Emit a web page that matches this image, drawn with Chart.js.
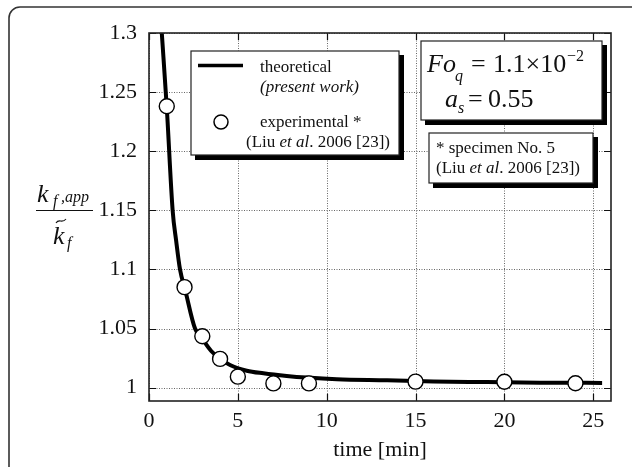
<!DOCTYPE html>
<html>
<head>
<meta charset="utf-8">
<script src="https://cdn.jsdelivr.net/npm/chart.js@4.4.1/dist/chart.umd.min.js"></script>
<style>
    html, body { margin: 0; padding: 0; background: #fff; }
    canvas { display: block; }
</style>
</head>
<body>
<canvas id="ratio-chart" width="632" height="467"></canvas>
<script>
// measured points (Liu et al. 2006, specimen No. 5)
const expTime = [1, 2, 3, 4, 5, 7, 9, 15, 20, 24];
const expRatio = [1.238, 1.085, 1.0435, 1.0243, 1.0093, 1.0036, 1.0036, 1.0051, 1.005, 1.0037];

// theoretical curve (present work)
const theoryTime = [0.72, 1.0, 1.33, 1.53, 1.745, 2.03, 2.59, 2.97, 3.5, 4.0, 4.56, 5.5, 6.44, 7.75, 8.88, 10.57, 13.4, 16.0, 19.0, 22.0, 25.5];
const theoryRatio = [1.3, 1.237, 1.15, 1.124, 1.1, 1.083, 1.05, 1.042, 1.031, 1.0245, 1.0191, 1.0143, 1.0121, 1.0099, 1.0085, 1.0071, 1.0062, 1.0052, 1.0047, 1.0042, 1.004];

const xTicks = [0, 5, 10, 15, 20, 25];
const yTicks = [1, 1.05, 1.1, 1.15, 1.2, 1.25, 1.3];

const SERIF = '"Liberation Serif", "Times New Roman", serif';

function toPoints(xs, ys) {
    return xs.map((x, i) => ({ x: x, y: ys[i] }));
}

function drawRuns(ctx, runs, x, y) {
    let cx = x;
    runs.forEach(r => {
        ctx.font = r.font;
        ctx.fillText(r.t, cx, y + (r.dy || 0));
        cx += ctx.measureText(r.t).width;
    });
    return cx;
}

function shadowBox(ctx, x, y, w, h) {
    ctx.fillStyle = '#000';
    ctx.fillRect(x + 4, y + 4, w + 1, h + 1);
    ctx.fillStyle = '#fff';
    ctx.fillRect(x, y, w, h);
    ctx.strokeStyle = '#222';
    ctx.lineWidth = 1.2;
    ctx.strokeRect(x, y, w, h);
}

const framePlugin = {
    id: 'frame',
    beforeDraw(chart) {
        const ctx = chart.ctx;
        ctx.save();
        ctx.fillStyle = '#fff';
        ctx.fillRect(0, 0, chart.width, chart.height);
        ctx.strokeStyle = '#333';
        ctx.lineWidth = 1.6;
        ctx.beginPath();
        ctx.roundRect(9, 7, 700, 600, 11);
        ctx.stroke();
        ctx.restore();
    },
    beforeDatasetsDraw(chart) {
        const { ctx, chartArea: a, scales } = chart;
        ctx.save();
        // dotted grid
        ctx.strokeStyle = '#666';
        ctx.lineWidth = 1;
        ctx.setLineDash([1, 1.5]);
        scales.x.ticks.forEach(t => {
            const px = Math.round(scales.x.getPixelForValue(t.value)) + 0.5;
            ctx.beginPath();
            ctx.moveTo(px, a.top);
            ctx.lineTo(px, a.bottom);
            ctx.stroke();
        });
        scales.y.ticks.forEach(t => {
            const py = Math.round(scales.y.getPixelForValue(t.value)) + 0.5;
            ctx.beginPath();
            ctx.moveTo(a.left, py);
            ctx.lineTo(a.right, py);
            ctx.stroke();
        });
        ctx.setLineDash([]);
        // inward ticks on all sides
        ctx.strokeStyle = '#111';
        ctx.lineWidth = 1.2;
        const tl = 7;
        scales.x.ticks.forEach(t => {
            const px = Math.round(scales.x.getPixelForValue(t.value)) + 0.5;
            ctx.beginPath();
            ctx.moveTo(px, a.bottom); ctx.lineTo(px, a.bottom - tl);
            ctx.moveTo(px, a.top); ctx.lineTo(px, a.top + tl);
            ctx.stroke();
        });
        scales.y.ticks.forEach(t => {
            const py = Math.round(scales.y.getPixelForValue(t.value)) + 0.5;
            ctx.beginPath();
            ctx.moveTo(a.left, py); ctx.lineTo(a.left + tl, py);
            ctx.moveTo(a.right, py); ctx.lineTo(a.right - tl, py);
            ctx.stroke();
        });
        ctx.restore();
    },
    afterDatasetsDraw(chart) {
        const { ctx, chartArea: a } = chart;
        ctx.save();
        ctx.strokeStyle = '#222';
        ctx.lineWidth = 1.6;
        ctx.strokeRect(a.left, a.top, a.right - a.left, a.bottom - a.top);
        ctx.restore();
    },
    afterDraw(chart) {
        const ctx = chart.ctx;
        ctx.save();
        ctx.textBaseline = 'alphabetic';

        // y axis label: k_{f,app} / k~_f
        ctx.fillStyle = '#111';
        ctx.font = `italic 26px ${SERIF}`;
        ctx.fillText('k', 37, 202);
        ctx.font = `italic 16px ${SERIF}`;
        ctx.fillText('f', 53, 206);
        ctx.fillText(',app', 61, 202);
        ctx.strokeStyle = '#111';
        ctx.lineWidth = 1;
        ctx.beginPath();
        ctx.moveTo(36, 210.5);
        ctx.lineTo(93, 210.5);
        ctx.stroke();
        ctx.font = `italic 26px ${SERIF}`;
        ctx.fillText('k', 53, 244);
        ctx.font = `italic 16px ${SERIF}`;
        ctx.fillText('f', 67, 248);
        ctx.lineWidth = 1.1;
        ctx.beginPath();
        ctx.moveTo(56, 223);
        ctx.bezierCurveTo(59, 218, 62, 224, 66, 219);
        ctx.stroke();

        // legend box
        shadowBox(ctx, 191, 51, 208, 104);
        ctx.strokeStyle = '#000';
        ctx.lineWidth = 3.5;
        ctx.beginPath();
        ctx.moveTo(198, 65.5);
        ctx.lineTo(243, 65.5);
        ctx.stroke();
        ctx.fillStyle = '#fff';
        ctx.lineWidth = 1.5;
        ctx.beginPath();
        ctx.arc(221, 122, 7, 0, Math.PI * 2);
        ctx.fill();
        ctx.stroke();
        ctx.fillStyle = '#111';
        ctx.font = `17px ${SERIF}`;
        ctx.fillText('theoretical', 260, 72);
        ctx.font = `italic 17px ${SERIF}`;
        ctx.fillText('(present work)', 260, 92);
        ctx.font = `17px ${SERIF}`;
        ctx.fillText('experimental *', 260, 127);
        drawRuns(ctx, [
            { t: '(Liu ', font: `17px ${SERIF}` },
            { t: 'et al', font: `italic 17px ${SERIF}` },
            { t: '. 2006 [23])', font: `17px ${SERIF}` }
        ], 246, 147);

        // parameter box
        shadowBox(ctx, 421, 41, 181, 79);
        ctx.fillStyle = '#111';
        ctx.font = `italic 26px ${SERIF}`;
        ctx.fillText('Fo', 427, 72);
        ctx.font = `italic 16px ${SERIF}`;
        ctx.fillText('q', 455, 81);
        ctx.font = `26px ${SERIF}`;
        ctx.fillText('=', 471, 72);
        ctx.fillText('1.1\u00d710', 493, 72);
        ctx.font = `16px ${SERIF}`;
        ctx.fillText('\u22122', 567, 61);
        ctx.font = `italic 26px ${SERIF}`;
        ctx.fillText('a', 445, 107);
        ctx.font = `italic 16px ${SERIF}`;
        ctx.fillText('s', 458, 113);
        ctx.font = `26px ${SERIF}`;
        ctx.fillText('=', 468, 107);
        ctx.fillText('0.55', 488, 107);

        // specimen note box
        shadowBox(ctx, 429, 133, 164, 50);
        ctx.fillStyle = '#111';
        ctx.font = `17px ${SERIF}`;
        ctx.fillText('* specimen No. 5', 436, 153);
        drawRuns(ctx, [
            { t: '(Liu ', font: `17px ${SERIF}` },
            { t: 'et al', font: `italic 17px ${SERIF}` },
            { t: '. 2006 [23])', font: `17px ${SERIF}` }
        ], 436, 173);

        ctx.restore();
    }
};

const canvas = document.getElementById('ratio-chart');
new Chart(canvas.getContext('2d'), {
    type: 'line',
    data: {
        datasets: [
            {
                label: 'experimental',
                data: toPoints(expTime, expRatio),
                showLine: false,
                pointRadius: 7.5,
                pointBackgroundColor: '#fff',
                pointBorderColor: '#000',
                pointBorderWidth: 1.4,
                order: 0
            },
            {
                label: 'theoretical',
                data: toPoints(theoryTime, theoryRatio),
                borderColor: '#000',
                borderWidth: 4,
                pointRadius: 0,
                cubicInterpolationMode: 'monotone',
                fill: false,
                order: 1
            }
        ]
    },
    options: {
        responsive: false,
        animation: false,
        layout: { padding: { left: 0, top: 33, right: 21, bottom: 0 } },
        plugins: {
            legend: { display: false },
            tooltip: { enabled: false }
        },
        scales: {
            x: {
                type: 'linear',
                min: 0,
                max: 26,
                afterBuildTicks: (s) => { s.ticks = xTicks.map(v => ({ value: v })); },
                afterFit: (s) => { s.height = 66; },
                grid: { display: false, drawTicks: false },
                border: { display: false },
                ticks: {
                    padding: 7,
                    color: '#111',
                    maxRotation: 0,
                    font: { family: SERIF, size: 22 },
                    callback: (v) => String(v)
                },
                title: {
                    display: true,
                    text: 'time [min]',
                    color: '#111',
                    font: { family: SERIF, size: 22 },
                    padding: { top: 0, bottom: 4 }
                }
            },
            y: {
                type: 'linear',
                min: 0.9887,
                max: 1.3,
                afterBuildTicks: (s) => { s.ticks = yTicks.map(v => ({ value: v })); },
                afterFit: (s) => { s.width = 149; },
                grid: { display: false, drawTicks: false },
                border: { display: false },
                ticks: {
                    padding: 12,
                    color: '#111',
                    font: { family: SERIF, size: 22 },
                    callback: (v) => String(Math.round(v * 100) / 100)
                }
            }
        }
    },
    plugins: [framePlugin]
});
</script>
</body>
</html>
